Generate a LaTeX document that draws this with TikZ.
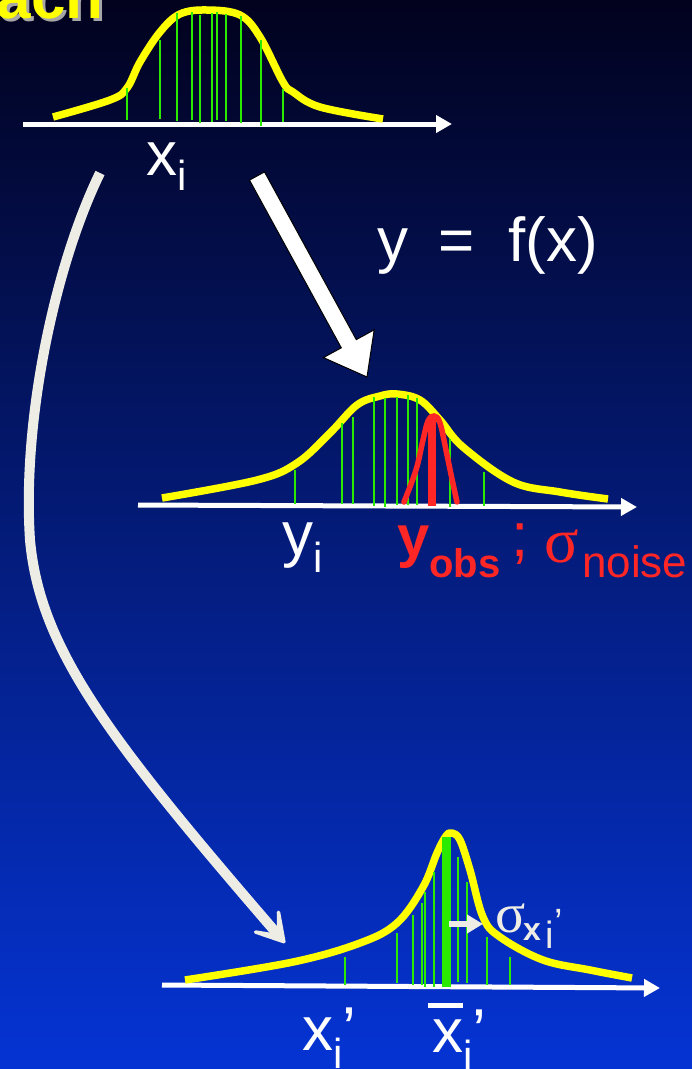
\documentclass[tikz,border=0pt]{standalone}
\usepackage{fontspec}
\setmainfont{Liberation Sans}
\newfontfamily\serifgr{Liberation Serif}
\usetikzlibrary{arrows.meta}
\definecolor{bgtop}{HTML}{02021E}
\definecolor{bgmid}{HTML}{061A7C}
\definecolor{bgbot}{HTML}{0534D4}
\definecolor{yellowc}{HTML}{FFFF00}
\definecolor{greenc}{HTML}{2AEA00}
\definecolor{redc}{HTML}{FF2626}
\definecolor{offwhite}{HTML}{EEEDE5}
\newcommand\lsub[2][16pt]{\raisebox{-#1}{\fontsize{42}{42}\selectfont #2}}
\begin{document}
\begin{tikzpicture}[x=1pt,y=-1pt,
  yel/.style={draw=yellowc, line width=7.5pt, line join=round},
  axisw/.style={draw=white, line width=5pt, -{Triangle[length=16pt,width=17pt]}},
  gl/.style={draw=greenc, line width=2pt},
  lab/.style={text=white, font=\fontsize{62}{62}\selectfont, inner sep=0pt, anchor=base west},
  redlab/.style={lab, text=redc},
  carrow/.style={draw=offwhite, line width=10pt, line cap=butt, -{Stealth[length=46pt,width=54pt,inset=32pt,round]}},
]
\useasboundingbox (0,0) rectangle (692,1069);
\clip (0,0) rectangle (692,1069);
\shade[top color=bgtop, middle color=bgmid, bottom color=bgbot] (0,0) rectangle (692,1069);

% title fragment
\node[font=\bfseries\fontsize{62}{62}\selectfont, text=gray!70, anchor=base east, inner sep=0pt] at (107,21) {ach};
\node[font=\bfseries\fontsize{62}{62}\selectfont, text=yellowc, anchor=base east, inner sep=0pt] (title) at (104,18) {ach};

% ---------- top distribution ----------
\coordinate (a1s) at (23,124); \coordinate (a1e) at (452,124);
\draw[axisw] (a1s) -- (a1e);
\draw[yel] plot[smooth, tension=0.6] coordinates {(53,117) (110,100) (127,88) (140,62) (160,32) (180,14) (207,10) (240,15) (260,37) (283,82) (293,92) (320,107) (383,119)};
\foreach \x/\t/\b in {127/88/120, 160/40/119, 177/13/121, 192/12/120, 200/15/123, 212/13/122, 217/12/120, 226/14/121, 241/16/123, 261/40/126, 283/89/122}
  \draw[gl] (\x,\t) -- (\x,\b);
\node[lab] (xi) at (146,175) {x\lsub[15pt]{i}};

% ---------- big white arrow y=f(x) ----------
\draw[fill=white, draw=black, line width=1pt, line join=miter]
  (249.5,180.1) -- (264.5,171.9) -- (356.3,339.6) -- (374.2,329.8) -- (367,377) -- (323.4,357.6) -- (341.3,347.8) -- cycle;
\node[lab] (yfx) at (377,261) {y\hspace{30pt}=\hspace{34pt}f(x)};

% ---------- middle distribution ----------
\coordinate (a2s) at (138,505); \coordinate (a2e) at (637,507);
\draw[axisw] (a2s) -- (a2e);
\draw[yel] plot[smooth, tension=0.6] coordinates {(162,498) (257,480) (297,463) (330,433) (357,405) (380,396) (397,394) (420,400) (440,420) (463,447) (513,482) (560,492) (608,499)};
\foreach \x/\t/\b in {295/470/504, 342/423/504, 353/417/504, 374/397/506, 385/398/507, 397/397/505, 408/395/505, 417/398/505, 450/439/507, 484/472/506}
  \draw[gl] (\x,\t) -- (\x,\b);
\draw[redc, line width=5.5pt, line cap=round] plot[smooth, tension=0.6] coordinates {(404,502) (416,470) (423,440) (428,421) (434,416) (440,423) (447,455) (452,479) (457,502)};
\draw[redc, line width=8pt] (432,418) -- (432,506);
\node[lab] (yi) at (282,555) {y\lsub[17pt]{i}};
\node[redlab, font=\bfseries\fontsize{58}{58}\selectfont] (yobs) at (397,556) {y\lsub[21pt]{\fontsize{40}{40}\selectfont obs}};
\node[redlab] (semi) at (511,556) {;};
\node[redlab, font=\serifgr\fontsize{64}{64}\selectfont] (sig) at (544,562) {σ};
\node[redlab, font=\fontsize{44}{44}\selectfont] (noise) at (582,577) {noise};

% ---------- curved arrow ----------
\coordinate (cs) at (100,173);
\coordinate (ce) at (285,943);
\draw[carrow] (cs) .. controls (55,265) and (22,420) .. (30,540) .. controls (40,650) and (110,740) .. (ce);

% ---------- bottom distribution ----------
\coordinate (a3s) at (162,985); \coordinate (a3e) at (660,988);
\draw[axisw] (a3s) -- (a3e);
\draw[yel] plot[smooth, tension=0.6] coordinates {(185,980) (293,962) (360,943) (397,923) (423,887) (437,853) (446,836) (452,833) (460,840) (470,870) (483,917) (500,937) (543,960) (590,970) (632,978)};
\foreach \x/\t/\b in {345/957/985, 397/933/983, 413/915/985, 422/903/985, 425/892/987, 434/872/987, 458/857/982, 467/882/983, 487/937/985, 510/957/985}
  \draw[gl] (\x,\t) -- (\x,\b);
\draw[greenc, line width=9pt] (446,837) -- (446,987);
\coordinate (ss) at (449,924); \coordinate (se) at (483,924);
\draw[offwhite, line width=5.5pt, -{Triangle[length=16pt,width=18pt]}] (ss) -- (se);
\node[lab, text=offwhite, font=\serifgr\fontsize{56}{56}\selectfont] (sx) at (495,932) {σ};
\node[lab, text=offwhite, font=\bfseries\fontsize{32}{32}\selectfont] (sxx) at (523,940) {x};
\node[lab, text=offwhite, font=\fontsize{38}{38}\selectfont] (sxi) at (545,948) {i};
\node[lab, text=offwhite, font=\fontsize{38}{38}\selectfont] (sxp) at (554,935) {’};

\node[lab] (xip) at (302,1050) {x\lsub[18pt]{i}’};
\node[lab] (xbar) at (432,1052) {x\lsub[18pt]{i}’};
\draw[white, line width=5pt] (428,1005.5) -- (463,1005.5);
\end{tikzpicture}
\end{document}
